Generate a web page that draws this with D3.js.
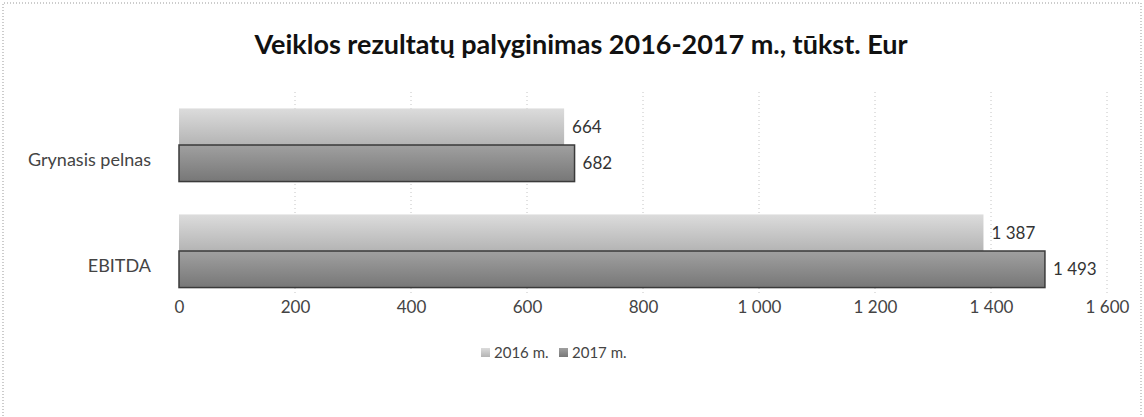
<!DOCTYPE html>
<html>
<head>
<meta charset="utf-8">
<script src="https://cdn.jsdelivr.net/npm/d3@7"></script>
<style>
  body { margin: 0; background: #fff; }
  svg { display: block; font-family: Lato, "Noto Sans", sans-serif; }
  .tick text { fill: #444; font-size: 17px; }
  .grid line { stroke: #c4c4c4; stroke-dasharray: 1 3; }
</style>
</head>
<body>
<div id="chart"></div>
<script>
// data
var categories = ["Grynasis pelnas", "EBITDA"];
var seriesNames = ["2016 m.", "2017 m."];
var values2016 = [664, 1387];
var values2017 = [682, 1493];
var xTicks = [0, 200, 400, 600, 800, 1000, 1200, 1400, 1600];
var title = "Veiklos rezultatų palyginimas 2016-2017 m., tūkst. Eur";

var outerWidth = 1144,
    outerHeight = 417,
    margin = {top: 92, right: 37, bottom: 113, left: 179},
    width = outerWidth - margin.left - margin.right,
    height = outerHeight - margin.top - margin.bottom;

// number format with space as thousands separator
var fmt = function (v) { return d3.format(",")(v).replace(/,/g, " "); };

var svg = d3.select("#chart").append("svg")
    .attr("width", outerWidth)
    .attr("height", outerHeight);

// bar shading, roughly like the scanned gradient
var defs = svg.append("defs");
var g16 = defs.append("linearGradient").attr("id", "g2016")
    .attr("x1", 0).attr("y1", 0).attr("x2", 0).attr("y2", 1);
g16.append("stop").attr("offset", "0%").attr("stop-color", "#dcdcdc");
g16.append("stop").attr("offset", "100%").attr("stop-color", "#b4b4b4");
var g17 = defs.append("linearGradient").attr("id", "g2017")
    .attr("x1", 0).attr("y1", 0).attr("x2", 0).attr("y2", 1);
g17.append("stop").attr("offset", "0%").attr("stop-color", "#a0a0a0");
g17.append("stop").attr("offset", "100%").attr("stop-color", "#777");
var fills = ["url(#g2016)", "url(#g2017)"];

// scanned page border
svg.append("path")
    .attr("d", "M3,416 V3 H1141 V416")
    .attr("fill", "none")
    .attr("stroke", "#999")
    .attr("stroke-dasharray", "1 2");

svg.append("text")
    .attr("x", 581)
    .attr("y", 54)
    .attr("text-anchor", "middle")
    .attr("font-size", 27)
    .attr("font-weight", "bold")
    .attr("fill", "#111")
    .text(title);

var chart = svg.append("g")
    .attr("transform", "translate(" + margin.left + "," + margin.top + ")");

var x = d3.scaleLinear().domain([0, 1600]).range([0, width]);

var y = d3.scaleBand()
    .domain(categories)
    .range([0, height])
    .paddingInner(0.31)
    .paddingOuter(0.155);

var ySub = d3.scaleBand()
    .domain(seriesNames)
    .range([0, y.bandwidth()]);

// grid
chart.append("g")
    .attr("class", "grid")
    .selectAll("line")
    .data(xTicks.slice(1))
    .enter().append("line")
    .attr("x1", function (d) { return x(d); })
    .attr("x2", function (d) { return x(d); })
    .attr("y1", 0)
    .attr("y2", height - 8);

// x axis
var xAxis = chart.append("g")
    .attr("transform", "translate(0," + height + ")")
    .call(d3.axisBottom(x).tickValues(xTicks).tickSize(0).tickPadding(-3).tickFormat(fmt))
    .attr("font-family", null)
    .attr("font-size", null);
xAxis.select(".domain").remove();

// y axis labels, sitting a little low as in the original
var yAxis = chart.append("g")
    .call(d3.axisLeft(y).tickSize(0).tickPadding(28))
    .attr("font-family", null)
    .attr("font-size", null);
yAxis.select(".domain").remove();
yAxis.selectAll(".tick text")
    .attr("fill", "#333")
    .style("font-size", "18px")
    .attr("dy", "1.15em");

// bars
var rows = categories.map(function (c, i) {
    return {category: c, values: [values2016[i], values2017[i]]};
});

var groups = chart.selectAll(".group")
    .data(rows)
    .enter().append("g")
    .attr("class", "group")
    .attr("transform", function (d) { return "translate(0," + y(d.category) + ")"; });

var bars = groups.selectAll(".bar")
    .data(function (d) {
        return d.values.map(function (v, j) { return {series: seriesNames[j], value: v, j: j}; });
    })
    .enter();

bars.append("rect")
    .attr("class", "bar")
    .attr("x", 0)
    .attr("y", function (d) { return ySub(d.series); })
    .attr("width", function (d) { return x(d.value); })
    .attr("height", ySub.bandwidth())
    .attr("fill", function (d) { return fills[d.j]; })
    .attr("stroke", function (d) { return d.j ? "#3a3a3a" : "none"; })
    .attr("stroke-width", 1.5);

bars.append("text")
    .attr("x", function (d) { return x(d.value) + 8; })
    .attr("y", function (d) { return ySub(d.series) + ySub.bandwidth() / 2; })
    .attr("dy", "0.35em")
    .attr("font-size", 17)
    .attr("fill", "#333")
    .text(function (d) { return fmt(d.value); });

// legend
var legend = svg.append("g")
    .attr("transform", "translate(481,353)");

var items = legend.selectAll("g")
    .data(seriesNames)
    .enter().append("g")
    .attr("transform", function (d, i) { return "translate(" + (i * 78) + ",0)"; });

items.append("rect")
    .attr("x", 0).attr("y", -5)
    .attr("width", 9).attr("height", 9)
    .attr("fill", function (d, i) { return fills[i]; });

items.append("text")
    .attr("x", 13)
    .attr("dy", "0.35em")
    .attr("font-size", 15)
    .attr("fill", "#444")
    .text(function (d) { return d; });
</script>
</body>
</html>
